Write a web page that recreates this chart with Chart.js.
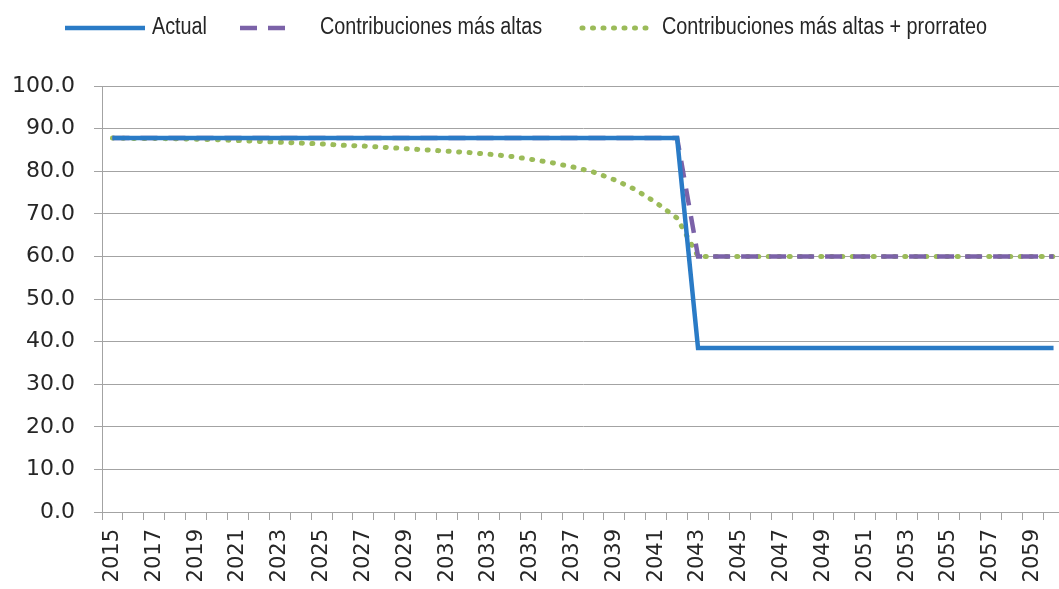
<!DOCTYPE html>
<html>
<head>
<meta charset="utf-8">
<script src="https://cdn.jsdelivr.net/npm/chart.js@4/dist/chart.umd.min.js"></script>
<style>
  html, body { margin: 0; padding: 0; background: #ffffff; overflow: hidden; }
  #wrap { width: 1059px; height: 589px; position: relative; overflow: hidden; }
  canvas { display: block; }
</style>
</head>
<body>
<div id="wrap"><canvas id="c" width="1070" height="589"></canvas></div>
<script>
// Years on the category axis
const years = ['2015','2016','2017','2018','2019','2020','2021','2022','2023','2024',
  '2025','2026','2027','2028','2029','2030','2031','2032','2033','2034',
  '2035','2036','2037','2038','2039','2040','2041','2042','2043','2044',
  '2045','2046','2047','2048','2049','2050','2051','2052','2053','2054',
  '2055','2056','2057','2058','2059','2060'];

// Replacement rate (%) under the current rule
const actual = [87.8,87.8,87.8,87.8,87.8,87.8,87.8,87.8,87.8,87.8,
  87.8,87.8,87.8,87.8,87.8,87.8,87.8,87.8,87.8,87.8,
  87.8,87.8,87.8,87.8,87.8,87.8,87.8,87.8,38.5,38.5,
  38.5,38.5,38.5,38.5,38.5,38.5,38.5,38.5,38.5,38.5,
  38.5,38.5,38.5,38.5,38.5,38.5];

// Using the highest contributions
const highest = [87.8,87.8,87.8,87.8,87.8,87.8,87.8,87.8,87.8,87.8,
  87.8,87.8,87.8,87.8,87.8,87.8,87.8,87.8,87.8,87.8,
  87.8,87.8,87.8,87.8,87.8,87.8,87.8,87.8,60.0,60.0,
  60.0,60.0,60.0,60.0,60.0,60.0,60.0,60.0,60.0,60.0,
  60.0,60.0,60.0,60.0,60.0,60.0];

// Highest contributions plus pro-rating
const prorated = [87.8,87.7,87.7,87.6,87.5,87.4,87.2,87.0,86.8,86.6,
  86.4,86.1,85.9,85.6,85.3,85.0,84.7,84.4,84.0,83.5,
  82.8,82.0,81.0,79.8,78.0,75.7,72.6,69.0,60.0,60.0,
  60.0,60.0,60.0,60.0,60.0,60.0,60.0,60.0,60.0,60.0,
  60.0,60.0,60.0,60.0,60.0,60.0];

const yTicks = [0,10,20,30,40,50,60,70,80,90,100];

const BLUE = '#2a7bc6';
const PURPLE = '#7b62a8';
const GREEN = '#9bbb59';
const GRID = '#a3a3a3';
const TEXT = '#262626';

// Legend drawn along the top, each sample using its dataset's stroke style
const topLegend = {
  id: 'topLegend',
  afterDraw(chart) {
    const ctx = chart.ctx;
    const items = [
      { ds: 0, x0: 65, x1: 145, tx: 152 },
      { ds: 1, x0: 240, x1: 292, tx: 320 },
      { ds: 2, x0: 582, x1: 652, tx: 662 }
    ];
    const yc = 28;
    const squeeze = 0.86;   // condensed face
    ctx.save();
    items.forEach(it => {
      const d = chart.data.datasets[it.ds];
      ctx.beginPath();
      ctx.strokeStyle = d.borderColor;
      ctx.lineWidth = d.borderWidth;
      ctx.lineCap = d.borderCapStyle || 'butt';
      ctx.setLineDash(d.borderDash || []);
      ctx.moveTo(it.x0, yc);
      ctx.lineTo(it.x1, yc);
      ctx.stroke();
      ctx.setLineDash([]);
      ctx.save();
      ctx.translate(it.tx, yc);
      ctx.scale(squeeze, 1);
      ctx.fillStyle = TEXT;
      ctx.font = '23px "Liberation Sans", Arial, sans-serif';
      ctx.textBaseline = 'middle';
      ctx.textAlign = 'left';
      ctx.fillText(d.label, 0, 0);
      ctx.restore();
    });
    ctx.restore();
  }
};

const bg = {
  id: 'bg',
  beforeDraw(chart) {
    const ctx = chart.ctx;
    ctx.save();
    ctx.fillStyle = '#ffffff';
    ctx.fillRect(0, 0, chart.width, chart.height);
    ctx.restore();
  }
};

new Chart(document.getElementById('c'), {
  type: 'line',
  data: {
    labels: years,
    datasets: [
      { label: 'Actual', data: actual, borderColor: BLUE, backgroundColor: BLUE,
        borderWidth: 4.5, pointRadius: 0, tension: 0, fill: false },
      { label: 'Contribuciones más altas', data: highest, borderColor: PURPLE, backgroundColor: PURPLE,
        borderWidth: 4.5, borderDash: [17, 11], pointRadius: 0, tension: 0, fill: false },
      { label: 'Contribuciones más altas + prorrateo', data: prorated, borderColor: GREEN, backgroundColor: GREEN,
        borderWidth: 5, borderDash: [1, 9.5], borderCapStyle: 'round', pointRadius: 0, tension: 0, fill: false }
    ]
  },
  options: {
    responsive: false,
    animation: false,
    layout: { padding: { top: 86, left: 0, right: 6, bottom: 0 } },
    plugins: { legend: { display: false }, tooltip: { enabled: false } },
    scales: {
      x: {
        offset: true,
        grid: { display: true, drawOnChartArea: false, drawTicks: true, tickLength: 8, color: GRID, offset: true },
        border: { display: true, color: GRID, width: 1 },
        ticks: {
          autoSkip: false, minRotation: 90, maxRotation: 90, padding: 9,
          color: TEXT, font: { family: '"DejaVu Sans", sans-serif', size: 21 },
          callback: (v, i) => (i % 2 === 0 ? years[i] : '')
        },
        afterFit: s => { s.height = 77; s.paddingLeft = 0; s.paddingRight = 0; }
      },
      y: {
        min: 0, max: 100,
        afterBuildTicks: s => { s.ticks = yTicks.map(v => ({ value: v })); },
        grid: { color: GRID, lineWidth: 1, tickLength: 8, drawTicks: true },
        border: { display: true, color: GRID, width: 1 },
        ticks: {
          padding: 19, color: TEXT,
          font: { family: '"DejaVu Sans", sans-serif', size: 22 },
          callback: v => Number(v).toFixed(1)
        },
        afterFit: s => { s.width = 102; s.paddingTop = 0; s.paddingBottom = 0; }
      }
    }
  },
  plugins: [bg, topLegend]
});
</script>
</body>
</html>
